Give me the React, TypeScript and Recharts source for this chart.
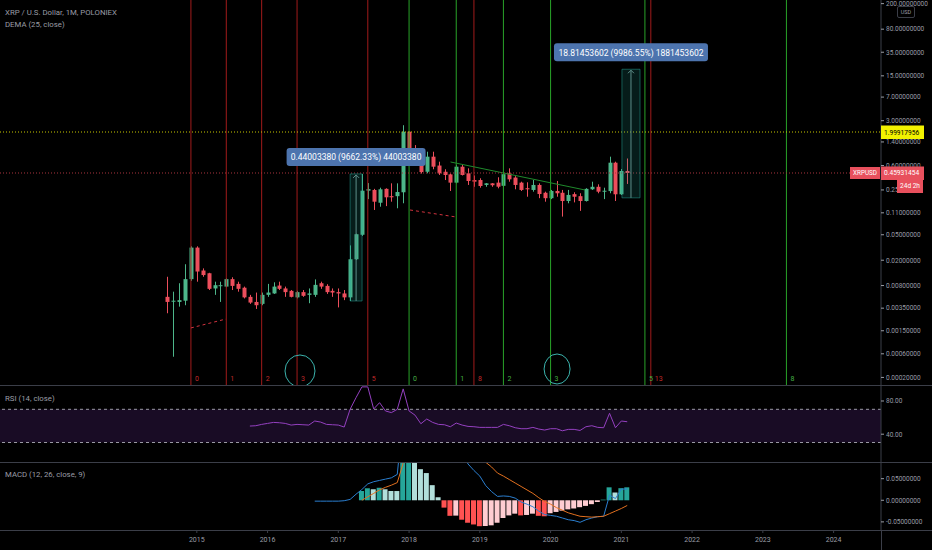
import React from 'react';
import {
  ComposedChart, Bar, Line, XAxis, YAxis, ReferenceLine, ReferenceArea, ReferenceDot, Cell,
} from 'recharts';

// ---------- data ----------
const OFFSET = 0.0001; // TradingView log scale offset
const T = (p: number) => Math.log10(p + OFFSET);

const months = [7, 8, 9, 10, 11, 12, 13, 14, 15, 16, 17, 18, 19, 20, 21, 22, 23, 24, 25, 26, 27, 28, 29, 30, 31, 32, 33, 34, 35, 36, 37, 38, 39, 40, 41, 42, 43, 44, 45, 46, 47, 48, 49, 50, 51, 52, 53, 54, 55, 56, 57, 58, 59, 60, 61, 62, 63, 64, 65, 66, 67, 68, 69, 70, 71, 72, 73, 74, 75, 76, 77, 78, 79, 80, 81, 82, 83, 84, 85];

const opens = [0.0053, 0.0045, 0.0044, 0.0046, 0.0101, 0.0315, 0.0138, 0.0125, 0.0072, 0.0080, 0.0077, 0.0101, 0.0085, 0.0074, 0.0053, 0.0044, 0.0041, 0.0057, 0.0060, 0.0080, 0.0072, 0.0066, 0.0052, 0.0063, 0.0057, 0.0057, 0.0087, 0.0079, 0.0066, 0.0063, 0.0060, 0.0052, 0.0207, 0.0500, 0.2435, 0.2500, 0.1580, 0.2600, 0.2000, 0.2000, 0.2300, 2.0200, 1.0500, 0.8800, 0.4800, 0.8250, 0.6000, 0.4800, 0.4370, 0.3250, 0.5760, 0.4540, 0.3570, 0.3570, 0.2990, 0.3170, 0.3250, 0.2900, 0.4540, 0.3900, 0.3250, 0.2660, 0.2500, 0.2990, 0.2260, 0.1860, 0.2410, 0.2260, 0.1680, 0.2150, 0.2000, 0.1680, 0.2560, 0.2800, 0.2400, 0.2400, 0.6650, 0.2140, 0.4940];
const highs = [0.0110, 0.0064, 0.0087, 0.0173, 0.0330, 0.0330, 0.0149, 0.0127, 0.0092, 0.0092, 0.0105, 0.0108, 0.0092, 0.0077, 0.0057, 0.0062, 0.0062, 0.0085, 0.0090, 0.0092, 0.0077, 0.0068, 0.0066, 0.0068, 0.0072, 0.0100, 0.0092, 0.0084, 0.0072, 0.0072, 0.0068, 0.0341, 0.0520, 0.4446, 0.3200, 0.2600, 0.2710, 0.2650, 0.3170, 0.3170, 2.5500, 2.0500, 1.2500, 0.9500, 0.9860, 0.9860, 0.6890, 0.5250, 0.4500, 0.6120, 0.6120, 0.5430, 0.4200, 0.3800, 0.3200, 0.3200, 0.3940, 0.4540, 0.5430, 0.4100, 0.3360, 0.3290, 0.3570, 0.3170, 0.2350, 0.2500, 0.3450, 0.2500, 0.2500, 0.2300, 0.2220, 0.2660, 0.3360, 0.3060, 0.2710, 0.8250, 0.6890, 0.5300, 0.7730];
const lows = [0.0029, 0.00053, 0.0037, 0.0039, 0.0095, 0.0092, 0.0110, 0.0068, 0.0057, 0.0044, 0.0075, 0.0068, 0.0064, 0.0050, 0.0041, 0.0034, 0.0039, 0.0053, 0.0059, 0.0068, 0.0053, 0.0052, 0.0050, 0.0053, 0.0042, 0.0053, 0.0071, 0.0059, 0.0053, 0.0036, 0.0047, 0.00455, 0.0202, 0.0480, 0.1800, 0.1218, 0.1370, 0.1400, 0.1640, 0.1295, 0.1550, 0.8800, 0.6000, 0.4500, 0.4540, 0.5250, 0.4280, 0.3570, 0.2410, 0.3170, 0.4200, 0.2990, 0.2800, 0.2710, 0.2800, 0.2800, 0.2650, 0.2800, 0.3360, 0.2560, 0.2410, 0.1960, 0.2350, 0.1860, 0.1640, 0.1800, 0.1960, 0.0960, 0.1550, 0.1600, 0.1180, 0.1650, 0.2500, 0.2220, 0.1800, 0.2220, 0.1680, 0.2090, 0.3100];
const closes = [0.0044, 0.0046, 0.0047, 0.0101, 0.0315, 0.0133, 0.0117, 0.0071, 0.0081, 0.0081, 0.0101, 0.0079, 0.0071, 0.0052, 0.0043, 0.0039, 0.0057, 0.0062, 0.0077, 0.0071, 0.0063, 0.0053, 0.0063, 0.0055, 0.0060, 0.0082, 0.0077, 0.0063, 0.0062, 0.0060, 0.0052, 0.0207, 0.0510, 0.2435, 0.2580, 0.1640, 0.2560, 0.1920, 0.1920, 0.2320, 2.0200, 1.0200, 0.8800, 0.4760, 0.8250, 0.5760, 0.4540, 0.4280, 0.3250, 0.5760, 0.4280, 0.3450, 0.3360, 0.2880, 0.3170, 0.2960, 0.2810, 0.4400, 0.3660, 0.2990, 0.2500, 0.2560, 0.2990, 0.2160, 0.1860, 0.2410, 0.2220, 0.1680, 0.2090, 0.1960, 0.1680, 0.2600, 0.2800, 0.2350, 0.2430, 0.6650, 0.2140, 0.4940, 0.45931454];

const rsiValues = [49.8, 50.2, 51.8, 53, 54.2, 53.8, 53, 51, 51.8, 51.4, 51, 55.9, 54.6, 51.8, 51.4, 51, 48.6, 70, 84, 97, 97, 70.4, 78, 68, 66, 70, 94.6, 68, 63, 52.6, 58.3, 54.2, 51.8, 51.4, 49, 53.4, 51, 49.4, 49, 48.2, 48.2, 48.2, 48.2, 51.8, 50.2, 47.8, 46.6, 46.6, 48.2, 46.2, 45, 46.6, 46.6, 44.1, 45.8, 45.8, 44.5, 49, 50.2, 48.2, 47.8, 65.2, 47.8, 55.9, 55];
const rsiMonths = months.slice(14);

const macdValues = [-0.002, -0.002, -0.002, -0.002, -0.002, -0.001, 0.002, 0.014, 0.025, 0.038, 0.043, 0.046, 0.049, 0.052, 0.060, 0.20, 0.30, 0.32, 0.30, 0.28, 0.25, 0.21, 0.18, 0.15, 0.13, 0.11, 0.084, 0.069, 0.056, 0.034, 0.020, 0.009, 0.010, 0.009, 0.005, -0.004, -0.009, -0.015, -0.025, -0.033, -0.035, -0.037, -0.041, -0.045, -0.047, -0.051, -0.045, -0.041, -0.038, -0.037, 0.012, 0.004, 0.026, 0.026];
const macdMonths = months.slice(25);
const signalValues = [0.000, 0.008, 0.016, 0.024, 0.030, 0.035, 0.041, 0.086, 0.13, 0.17, 0.19, 0.20, 0.20, 0.19, 0.18, 0.165, 0.15, 0.135, 0.12, 0.105, 0.095, 0.088, 0.077, 0.063, 0.056, 0.048, 0.040, 0.032, 0.024, 0.016, 0.006, -0.003, -0.009, -0.017, -0.023, -0.029, -0.033, -0.037, -0.038, -0.039, -0.038, -0.037, -0.031, -0.025, -0.019, -0.012];
const histValues = [0.0215, 0.0278, 0.0255, 0.029, 0.0255, 0.0215, 0.0214, 0.12, 0.17, 0.15, 0.072, 0.063, 0.035, 0.007, -0.017, -0.036, -0.0355, -0.045, -0.052, -0.056, -0.060, -0.0595, -0.058, -0.052, -0.041, -0.035, -0.031, -0.035, -0.034, -0.031, -0.036, -0.037, -0.030, -0.027, -0.024, -0.021, -0.019, -0.016, -0.013, -0.009, -0.004, 0.0015, 0.030, 0.018, 0.028, 0.030];
const signalStart = 40;

const priceTicks = [200, 80, 35, 15, 7, 3, 1.4, 0.6, 0.25, 0.11, 0.05, 0.02, 0.008, 0.0035, 0.0015, 0.0006, 0.0002];
const yearTicks = [12, 24, 36, 48, 60, 72, 84, 96, 108, 120];
const yearLabels = ['2015', '2016', '2017', '2018', '2019', '2020', '2021', '2022', '2023', '2024'];
const rsiTicks = [40, 80];
const macdTicks = [-0.05, 0, 0.05];

const redFibMonths = [11, 17, 23, 29, 41, 59, 89];
const redFibLabels = ['0', '1', '2', '3', '5', '8', '13'];
const greenFibMonths = [48, 56, 64, 72, 88, 112];
const greenFibLabels = ['0', '1', '2', '3', '5', '8'];

const levelPrice = 1.99917956;
const lastPrice = 0.45931454;

const measures = [
  { x1: 38.0, x2: 40.03, base: 0.0045541, top: 0.4445879, text: '0.44003380 (9662.33%) 44003380', w: 139 },
  { x1: 84.1, x2: 87.17, base: 0.188399, top: 19.00293, text: '18.81453602 (9986.55%) 1881453602', w: 154 },
];
const redTrends = [
  [{ m: 11, p: 0.00167 }, { m: 16.95, p: 0.00234 }],
  [{ m: 48.16, p: 0.1218 }, { m: 55.96, p: 0.0947 }],
];
const greenTrend = [{ m: 55.03, p: 0.682 }, { m: 77.84, p: 0.2496 }];
const ellipses = [
  { m: 29.5, p: 0.000278, rx: 15, ry: 16 },
  { m: 73.1, p: 0.000306, rx: 13, ry: 15 },
];

// ---------- style ----------
const FONT = 'Roboto, "Noto Sans", sans-serif';
const BG = '#000000';
const SEP = '#3b3e48';
const TXT = '#9a9da6';
const UP = '#4db68a';
const DOWN = '#ec4e5c';
const FIB_RED = '#a11b1b';
const FIB_RED_TXT = '#c02a2a';
const FIB_GREEN = '#29a329';
const FIB_GREEN_TXT = '#45b045';
const X_DOMAIN: [number, number] = [-21.38, 128.04];
const Y_DOMAIN: [number, number] = [-3.641, 2.3577];
const W = 932;
const AXIS_W = 51;
const MAIN_H = 385;

const candleData = months.map((m, i) => ({
  m,
  open: opens[i], high: highs[i], low: lows[i], close: closes[i],
  range: [T(lows[i]), T(highs[i])],
  tOpen: T(opens[i]), tClose: T(closes[i]), tHigh: T(highs[i]), tLow: T(lows[i]),
}));

const rsiData = rsiMonths.map((m, i) => ({ m, rsi: rsiValues[i] }));

const macdData = macdMonths.map((m, i) => {
  const j = m - signalStart;
  return {
    m,
    macd: macdValues[i],
    signal: j >= 0 ? signalValues[j] : null,
    hist: j >= 0 ? histValues[j] : null,
  };
});

const histColor = (j: number) => {
  const h = histValues[j];
  const prev = j > 0 ? histValues[j - 1] : 0;
  if (h >= 0) return h >= prev ? '#26a69a' : '#b2dfdb';
  return h < prev ? '#ff5252' : '#ffcdd2';
};

const priceLabelMap = new Map(priceTicks.map((p) => [T(p).toFixed(6), p.toFixed(8)]));

const Candle = (props: any) => {
  const { x, y, width, height, payload } = props;
  if (x == null || y == null || !payload) return null;
  const top = Math.min(y, y + height);
  const h = Math.abs(height);
  const span = payload.tHigh - payload.tLow;
  const k = span > 0 ? h / span : 0;
  const yO = top + (payload.tHigh - payload.tOpen) * k;
  const yC = top + (payload.tHigh - payload.tClose) * k;
  const color = payload.close >= payload.open ? UP : DOWN;
  const cx = Math.round(x + width / 2) + 0.5;
  const bTop = Math.min(yO, yC);
  const bH = Math.max(1, Math.abs(yC - yO));
  return (
    <g>
      <line x1={cx} x2={cx} y1={top} y2={top + h} stroke={color} strokeWidth={1} />
      <rect x={cx - width / 2} y={bTop} width={width} height={bH} fill={color} />
    </g>
  );
};

const getVB = (props: any) => props.viewBox || props;

const priceTag = (text: string, bg: string, color: string, extra?: boolean) => (props: any) => {
  const vb = getVB(props);
  const right = vb.x + vb.width;
  const y = vb.y;
  return (
    <g>
      {extra && (
        <g>
          <rect x={right - 31} y={y - 6} width={30} height={12} fill={bg} />
          <text x={right - 16} y={y + 0.5} textAnchor="middle" dominantBaseline="central" fontSize={6.3} fontFamily={FONT} fill="#ffffff">XRPUSD</text>
          <rect x={right + 16} y={y + 7} width={26} height={13} fill={bg} />
          <text x={right + 29} y={y + 13.5} textAnchor="middle" dominantBaseline="central" fontSize={6.5} fontFamily={FONT} fill="#ffffff">24d 2h</text>
        </g>
      )}
      <rect x={right} y={y - 6.5} width={43} height={13.5} fill={bg} />
      <text x={right + 3} y={y + 0.5} textAnchor="start" dominantBaseline="central" fontSize={6.6} fontFamily={FONT} fill={color}>{text}</text>
    </g>
  );
};

const measureLabel = (text: string, w: number) => (props: any) => {
  const vb = getVB(props);
  const cx = vb.x + vb.width / 2;
  const top = vb.y;
  const bottom = vb.y + vb.height;
  return (
    <g>
      <line x1={cx} x2={cx} y1={bottom} y2={top + 1} stroke="#5e8f8a" strokeWidth={1} />
      <path d={`M${cx - 3},${top + 4} L${cx},${top + 1} L${cx + 3},${top + 4}`} stroke="#5e8f8a" fill="none" strokeWidth={1} />
      <rect x={cx - w / 2} y={top - 26} width={w} height={18} rx={3} fill="#4d74ae" />
      <text x={cx} y={top - 16.5} textAnchor="middle" dominantBaseline="central" fontSize={8.5} fontFamily={FONT} fill="#ffffff">{text}</text>
    </g>
  );
};

const tickStyle = { fill: TXT, fontSize: 6.5, fontFamily: FONT };
const overlayMargin = { top: 0, right: AXIS_W, bottom: 0, left: 0 };

const MainPane = () => (
  <ComposedChart width={W} height={MAIN_H} data={candleData} margin={{ top: 0, right: 0, bottom: 0, left: 0 }}>
    <XAxis type="number" dataKey="m" domain={X_DOMAIN} allowDataOverflow hide />
    <YAxis
      orientation="right" type="number" width={AXIS_W} domain={Y_DOMAIN} allowDataOverflow
      ticks={priceTicks.map(T)} interval={0}
      tickFormatter={(v: number) => priceLabelMap.get(v.toFixed(6)) || ''}
      axisLine={{ stroke: SEP }} tickLine={{ stroke: TXT }} tickSize={3} tickMargin={2} tick={tickStyle}
    />
    <Bar dataKey="range" barSize={4} shape={<Candle />} isAnimationActive={false} />
  </ComposedChart>
);

// drawings layer (fib time zones, trend lines, circles, price lines) above the candles
const DrawingsPane = () => (
  <ComposedChart width={W} height={MAIN_H} data={candleData} margin={overlayMargin}>
    <XAxis type="number" dataKey="m" domain={X_DOMAIN} allowDataOverflow hide />
    <YAxis type="number" domain={Y_DOMAIN} allowDataOverflow hide />
    {redFibMonths.map((m, i) => (
      <ReferenceLine key={'rf' + i} x={m} stroke={FIB_RED} strokeWidth={1}
        label={{ value: redFibLabels[i], position: 'insideBottomLeft', offset: 4, fill: FIB_RED_TXT, fontSize: 7, fontFamily: FONT }} />
    ))}
    {greenFibMonths.map((m, i) => (
      <ReferenceLine key={'gf' + i} x={m} stroke={FIB_GREEN} strokeWidth={1}
        label={{ value: greenFibLabels[i], position: 'insideBottomLeft', offset: 4, fill: FIB_GREEN_TXT, fontSize: 7, fontFamily: FONT }} />
    ))}
    {redTrends.map((s, i) => (
      <ReferenceLine key={'rt' + i} segment={[{ x: s[0].m, y: T(s[0].p) }, { x: s[1].m, y: T(s[1].p) }]}
        stroke="#d2333f" strokeWidth={1} strokeDasharray="3 3" />
    ))}
    <ReferenceLine segment={[{ x: greenTrend[0].m, y: T(greenTrend[0].p) }, { x: greenTrend[1].m, y: T(greenTrend[1].p) }]}
      stroke="#1f8a2c" strokeWidth={1} />
    {ellipses.map((e, i) => (
      <ReferenceDot key={'el' + i} x={e.m} y={T(e.p)} r={e.rx}
        shape={(p: any) => <ellipse cx={p.cx} cy={p.cy} rx={e.rx} ry={e.ry} fill="none" stroke="#3bb3ad" strokeWidth={1} />} />
    ))}
    <ReferenceLine y={T(levelPrice)} stroke="#c8c800" strokeDasharray="1 2" strokeWidth={1}
      label={priceTag(levelPrice.toFixed(8), '#f2f200', '#000000')} />
    <ReferenceLine y={T(lastPrice)} stroke="#a8343e" strokeDasharray="1 2" strokeWidth={1}
      label={priceTag(lastPrice.toFixed(8), '#e8505d', '#ffffff', true)} />
  </ComposedChart>
);

// measurement tool layer, on top of everything
const MeasurePane = () => (
  <ComposedChart width={W} height={MAIN_H} data={candleData} margin={overlayMargin}>
    <XAxis type="number" dataKey="m" domain={X_DOMAIN} allowDataOverflow hide />
    <YAxis type="number" domain={Y_DOMAIN} allowDataOverflow hide />
    {measures.map((d, i) => (
      <ReferenceArea key={'ms' + i} x1={d.x1} x2={d.x2} y1={T(d.base)} y2={T(d.top)}
        fill="rgba(38,166,154,0.17)" fillOpacity={1} stroke="rgba(38,166,154,0.5)" strokeWidth={1}
        label={measureLabel(d.text, d.w)} />
    ))}
  </ComposedChart>
);

const RsiPane = () => (
  <ComposedChart width={W} height={76} data={rsiData} margin={{ top: 0, right: 0, bottom: 0, left: 0 }}>
    <XAxis type="number" dataKey="m" domain={X_DOMAIN} allowDataOverflow hide />
    <YAxis orientation="right" type="number" width={AXIS_W} domain={[6.5, 98.07]} allowDataOverflow
      ticks={rsiTicks} interval={0} tickFormatter={(v: number) => v.toFixed(2)}
      axisLine={{ stroke: SEP }} tickLine={{ stroke: TXT }} tickSize={3} tickMargin={2} tick={tickStyle} />
    <ReferenceArea y1={30} y2={70} fill="#190c25" fillOpacity={1} stroke="none" />
    <ReferenceLine y={70} stroke="#9b9ba5" strokeDasharray="3 3" strokeWidth={1} />
    <ReferenceLine y={30} stroke="#9b9ba5" strokeDasharray="3 3" strokeWidth={1} />
    <Line type="linear" dataKey="rsi" stroke="#9440c0" strokeWidth={1} dot={false} isAnimationActive={false} />
  </ComposedChart>
);

const MacdPane = () => (
  <ComposedChart width={W} height={87} data={macdData} margin={{ top: 0, right: 0, bottom: 0, left: 0 }}>
    <XAxis type="number" dataKey="m" domain={X_DOMAIN} allowDataOverflow ticks={yearTicks} interval={0}
      tickFormatter={(v: number, i: number) => yearLabels[i]} height={20}
      axisLine={false} tickLine={{ stroke: SEP }} tickSize={3} tickMargin={4}
      tick={{ fill: TXT, fontSize: 7, fontFamily: FONT }} />
    <YAxis orientation="right" type="number" width={AXIS_W} domain={[-0.0688, 0.0863]} allowDataOverflow
      ticks={macdTicks} interval={0} tickFormatter={(v: number) => v.toFixed(8)}
      axisLine={{ stroke: SEP }} tickLine={{ stroke: TXT }} tickSize={3} tickMargin={2} tick={tickStyle} />
    <Bar dataKey="hist" barSize={5} isAnimationActive={false}>
      {macdData.map((d, i) => (
        <Cell key={'h' + i} fill={d.hist == null ? 'none' : histColor(d.m - signalStart)} />
      ))}
    </Bar>
    <Line type="linear" dataKey="macd" stroke="#2b7fd0" strokeWidth={1} dot={false} isAnimationActive={false} />
    <Line type="linear" dataKey="signal" stroke="#e2701f" strokeWidth={1} dot={false} isAnimationActive={false} />
  </ComposedChart>
);

const legendStyle: React.CSSProperties = {
  position: 'absolute', left: 5, color: TXT, fontFamily: FONT, fontSize: 7.8, lineHeight: '10px', whiteSpace: 'nowrap',
};
const hsep = (top: number): React.CSSProperties => ({ position: 'absolute', left: 0, top, width: W, height: 1, background: SEP });
const layer: React.CSSProperties = { position: 'absolute', left: 0, top: 0, pointerEvents: 'none' };

export default function App() {
  return (
    <div style={{ position: 'absolute', left: 0, top: 0, width: W, height: 550, background: BG, overflow: 'hidden' }}>
      <div style={layer}><MainPane /></div>
      <div style={layer}><DrawingsPane /></div>
      <div style={layer}><MeasurePane /></div>
      <div style={hsep(385)} />
      <div style={{ position: 'absolute', left: 0, top: 386 }}><RsiPane /></div>
      <div style={hsep(462)} />
      <div style={{ position: 'absolute', left: 0, top: 463 }}><MacdPane /></div>
      <div style={hsep(530)} />
      <div style={{ position: 'absolute', left: W - AXIS_W, top: 530, width: 1, height: 20, background: SEP }} />
      <div style={{ ...legendStyle, top: 8 }}>XRP / U.S. Dollar, 1M, POLONIEX</div>
      <div style={{ ...legendStyle, top: 20 }}>DEMA (25, close)</div>
      <div style={{ ...legendStyle, top: 394 }}>RSI (14, close)</div>
      <div style={{ ...legendStyle, top: 470 }}>MACD (12, 26, close, 9)</div>
      <div style={{
        position: 'absolute', left: 897, top: 6, width: 16, height: 10, border: `1px solid ${SEP}`, borderRadius: 2,
        background: BG, color: TXT, fontFamily: FONT, fontSize: 5.5, lineHeight: '10px', textAlign: 'center',
      }}>USD</div>
    </div>
  );
}
